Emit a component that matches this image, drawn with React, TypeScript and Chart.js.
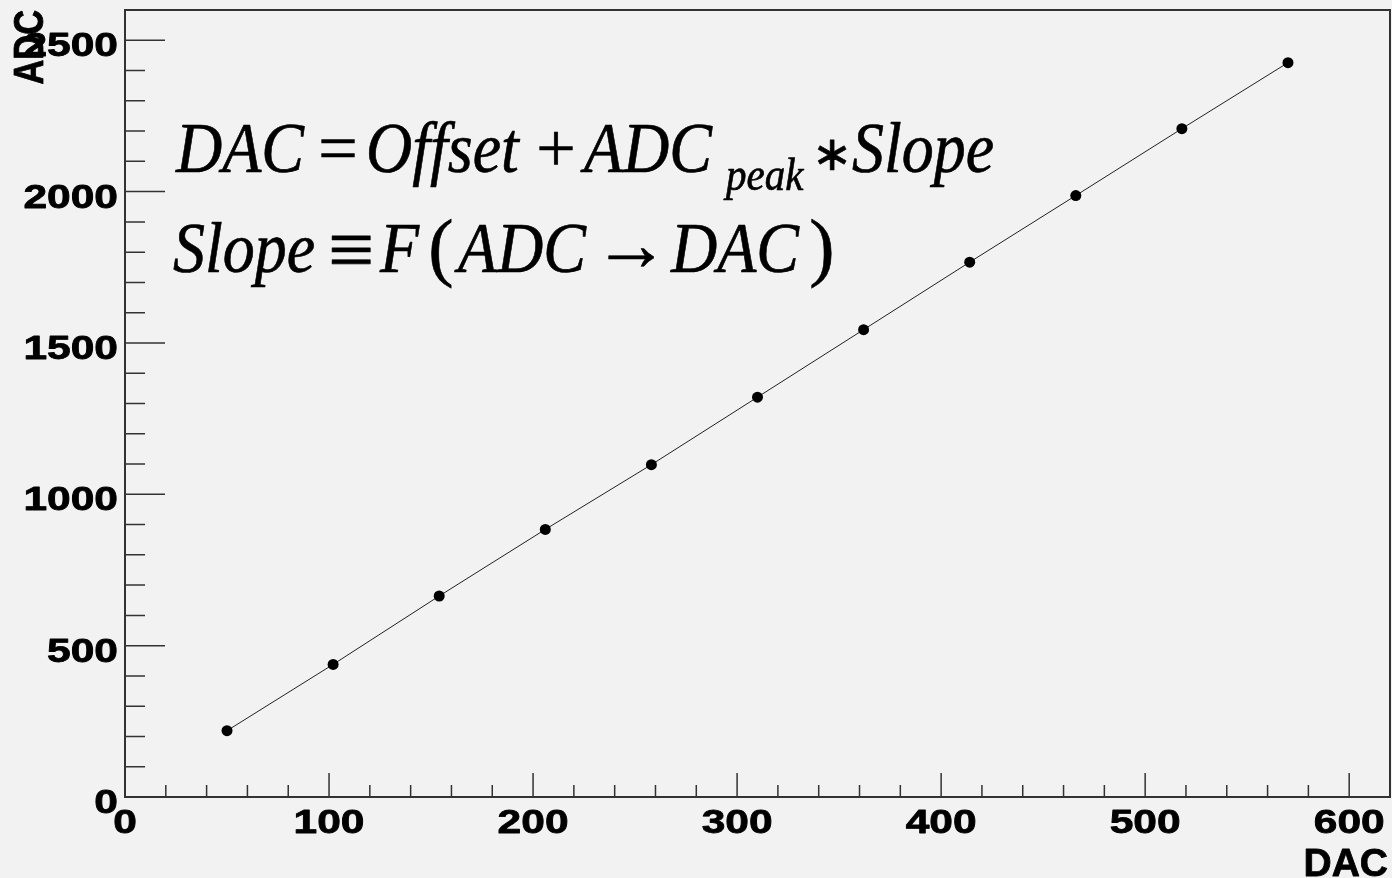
import React, { useEffect, useRef } from "react";
import { Chart, registerables } from "chart.js";

Chart.register(...registerables);

// ---- data ----
const dacValues = [50, 102, 154, 206, 258, 310, 362, 414, 466, 518, 570];
const adcValues = [219, 438, 664, 884, 1098, 1321, 1544, 1767, 1987, 2208, 2426];

// ---- axes ----
const xTickLabels = [0, 100, 200, 300, 400, 500, 600];
const yTickLabels = [0, 500, 1000, 1500, 2000, 2500];
const xMin = 0;
const xMax = 620;
const yMin = 0;
const yMax = 2600;
const xMinorStep = 20;
const yMinorStep = 100;
const xTitle = "DAC";
const yTitle = "ADC";

const BG = "#f2f2f2";
const AXIS_FONT = '"Liberation Sans", Arial, sans-serif';
const MATH_FONT = '"Liberation Serif", "Times New Roman", serif';

const rootStylePlugin = {
  id: "rootStyle",
  beforeDraw(chart: any) {
    const ctx = chart.ctx;
    ctx.save();
    ctx.fillStyle = BG;
    ctx.fillRect(0, 0, chart.width, chart.height);
    ctx.restore();
  },
  afterDraw(chart: any) {
    const ctx: CanvasRenderingContext2D = chart.ctx;
    const { left, right, top, bottom } = chart.chartArea;
    const xs = chart.scales.x;
    const ys = chart.scales.y;
    ctx.save();

    // frame
    ctx.strokeStyle = "#333";
    ctx.lineWidth = 2;
    ctx.beginPath();
    ctx.moveTo(left, top);
    ctx.lineTo(right, top);
    ctx.lineTo(right, bottom);
    ctx.lineTo(left, bottom);
    ctx.closePath();
    ctx.stroke();

    // x ticks (inward)
    ctx.lineWidth = 1.5;
    ctx.strokeStyle = "#333";
    ctx.beginPath();
    for (let v = xMin; v <= xMax + 1e-6; v += xMinorStep) {
      const px = xs.getPixelForValue(v);
      const major = Math.abs(v % 100) < 1e-6;
      const len = major ? 24 : 12;
      ctx.moveTo(px, bottom);
      ctx.lineTo(px, bottom - len);
    }
    // y ticks (inward)
    for (let v = yMin; v <= yMax + 1e-6; v += yMinorStep) {
      const py = ys.getPixelForValue(v);
      const major = Math.abs(v % 500) < 1e-6;
      const len = major ? 40 : 20;
      ctx.moveTo(left, py);
      ctx.lineTo(left + len, py);
    }
    ctx.stroke();

    // stretched text helper
    const txt = (t: string, x: number, y: number, font: string, align: CanvasTextAlign, sx: number, sy = 1, rot = 0, heavy = 0) => {
      ctx.save();
      ctx.translate(x, y);
      if (rot) ctx.rotate(rot);
      ctx.scale(sx, sy);
      ctx.font = font;
      ctx.textAlign = align;
      ctx.textBaseline = "alphabetic";
      ctx.fillStyle = "#000";
      ctx.fillText(t, 0, 0);
      if (heavy > 0) {
        ctx.strokeStyle = "#000";
        ctx.lineWidth = heavy;
        ctx.lineJoin = "round";
        ctx.strokeText(t, 0, 0);
      }
      ctx.restore();
    };

    // tick labels
    const labelFont = `bold 34px ${AXIS_FONT}`;
    for (const v of xTickLabels) {
      txt(String(v), xs.getPixelForValue(v), bottom + 36, labelFont, "center", 1.25, 1, 0, 0.8);
    }
    for (const v of yTickLabels) {
      txt(String(v), left - 7, ys.getPixelForValue(v) + 16, labelFont, "right", 1.25, 1, 0, 0.8);
    }

    // axis titles
    txt(xTitle, right - 2, chart.height - 2, `bold 39px ${AXIS_FONT}`, "right", 1, 1, 0, 0.8);
    txt(yTitle, left - 82, top, `bold 42px ${AXIS_FONT}`, "right", 0.82, 1, -Math.PI / 2, 0.8);

    // formula annotation
    const it = (t: string, x: number, y: number, size: number, italic = true, align: CanvasTextAlign = "left", sy = 1.12) => {
      txt(t, x, y, `${italic ? "italic " : ""}${size}px ${MATH_FONT}`, align, 1, sy, 0, 0.6);
    };
    const b1 = 172;
    it("DAC", 176, b1, 64);
    it("=", 338, b1, 70, false, "center", 1);
    it("Offset", 366, b1, 64);
    it("+", 556, b1, 70, false, "center", 1);
    it("ADC", 584, b1, 64);
    it("peak", 726, 190, 41);
    it("\u2217", 832, 170, 48, false, "center", 1);
    it("Slope", 852, b1, 64);

    const b2 = 272;
    it("Slope", 173, b2, 64);
    it("\u2261", 351, b2 + 5, 82, false, "center", 1);
    it("F", 380, b2, 64);
    it("(", 441, 272, 76, false, "center", 1);
    it("ADC", 458, b2, 64);
    it("\u2192", 631, b2 - 2, 76, false, "center", 1);
    it("DAC", 671, b2, 64);
    it(")", 822, 272, 76, false, "center", 1);

    ctx.restore();
  },
};

export default function App() {
  const canvasRef = useRef<HTMLCanvasElement | null>(null);

  useEffect(() => {
    document.body.style.margin = "0";
    document.body.style.background = BG;
    const canvas = canvasRef.current;
    if (!canvas) return;
    const chart = new Chart(canvas, {
      type: "scatter",
      data: {
        datasets: [
          {
            label: "ADC vs DAC",
            data: dacValues.map((x, i) => ({ x, y: adcValues[i] })),
            showLine: true,
            borderColor: "#222",
            borderWidth: 1,
            pointRadius: 5.5,
            pointHoverRadius: 5.5,
            pointBackgroundColor: "#000",
            pointBorderColor: "#000",
            pointBorderWidth: 0,
          },
        ],
      },
      options: {
        responsive: false,
        animation: false,
        events: [],
        layout: { autoPadding: false, padding: { left: 125, right: 2, top: 10, bottom: 81 } },
        plugins: {
          legend: { display: false },
          tooltip: { enabled: false },
        },
        scales: {
          x: { type: "linear", min: xMin, max: xMax, display: false },
          y: { type: "linear", min: yMin, max: yMax, display: false },
        },
      },
      plugins: [rootStylePlugin],
    });
    return () => chart.destroy();
  }, []);

  return (
    <div style={{ width: 1392, height: 878, background: BG }}>
      <canvas ref={canvasRef} width={1392} height={878} style={{ display: "block" }} />
    </div>
  );
}
